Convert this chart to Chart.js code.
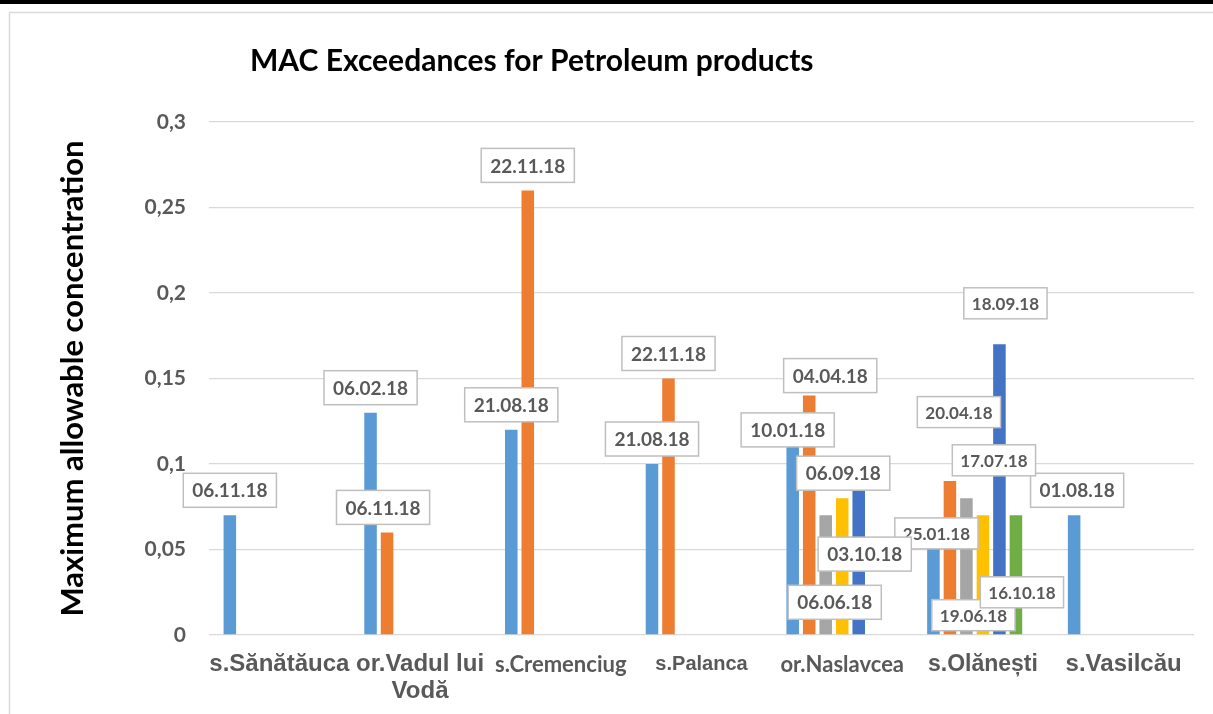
<!DOCTYPE html>
<html>
<head>
<meta charset="utf-8">
<script src="https://cdn.jsdelivr.net/npm/chart.js@4.4.0/dist/chart.umd.min.js"></script>
<style>
  html, body { margin: 0; padding: 0; background: #fff; }
</style>
</head>
<body>
<canvas id="macChart" width="1213" height="714"></canvas>
<script>
const sites = ["s.Sănătăuca", ["or.Vadul lui", "Vodă"], "s.Cremenciug", "s.Palanca", "or.Naslavcea", "s.Olănești", "s.Vasilcău"];

// one array per sampling (1st, 2nd, ... exceedance at the site)
const series1 = [0.07, 0.13, 0.12, 0.10, 0.11, 0.06, 0.07];
const series2 = [null, 0.06, 0.26, 0.15, 0.14, 0.09, null];
const series3 = [null, null, null, null, 0.07, 0.08, null];
const series4 = [null, null, null, null, 0.08, 0.07, null];
const series5 = [null, null, null, null, 0.09, 0.17, null];
const series6 = [null, null, null, null, null, 0.07, null];
const series7 = [null, null, null, null, null, null, null];

// sampling dates written in the label boxes
const dates1 = ["06.11.18", "06.02.18", "21.08.18", "21.08.18", "10.01.18", "25.01.18", "01.08.18"];
const dates2 = [null, "06.11.18", "22.11.18", "22.11.18", "04.04.18", "20.04.18", null];
const dates3 = [null, null, null, null, "06.06.18", "19.06.18", null];
const dates4 = [null, null, null, null, "06.09.18", "17.07.18", null];
const dates5 = [null, null, null, null, "03.10.18", "18.09.18", null];
const dates6 = [null, null, null, null, null, "16.10.18", null];

const yTicks = [0, 0.05, 0.1, 0.15, 0.2, 0.25, 0.3];

const colors = ["#5B9BD5", "#ED7D31", "#A5A5A5", "#FFC000", "#4472C4", "#70AD47", "#264478"];
// the site names were typed in two different fonts
const siteFonts = [
  ["Liberation Sans", 24], ["Liberation Sans", 24], ["Lato", 22], ["Liberation Sans", 20],
  ["Lato", 22], ["Liberation Sans", 23], ["Liberation Sans", 24]
];

// labels that were dragged away from the bar top (series-site : [dx, dy])
const labelMoves = {
  "0-4": [-5, -17], "0-5": [3, 1], "0-6": [3, -25],
  "1-1": [-4, -25], "1-4": [21, -20], "1-5": [9, -69],
  "2-4": [9, 87], "2-5": [7, 117],
  "3-4": [1, -25], "3-5": [11, -55],
  "4-4": [6, 73], "4-5": [6, -41],
  "5-5": [6, 77]
};

const allSeries = [series1, series2, series3, series4, series5, series6, series7];
const allDates = [dates1, dates2, dates3, dates4, dates5, dates6];

const framePlugin = {
  id: "frame",
  beforeDraw(chart) {
    const c = chart.ctx;
    c.save();
    c.fillStyle = "#fff";
    c.fillRect(0, 0, chart.width, chart.height);
    c.strokeStyle = "#d9d9d9";
    c.lineWidth = 1.5;
    c.strokeRect(9.5, 12.5, chart.width + 20, chart.height + 20);
    c.fillStyle = "#000";
    c.fillRect(0, 0, chart.width, 4);
    c.restore();
  },
  afterDraw(chart) {
    const c = chart.ctx;
    c.save();
    c.fillStyle = "#000";
    c.font = "bold 30px Lato";
    c.textBaseline = "middle";
    c.fillText("MAC Exceedances for Petroleum products", 250, 61);
    c.restore();
  }
};

const dateLabels = {
  id: "dateLabels",
  afterDatasetsDraw(chart) {
    const c = chart.ctx;
    c.save();
    c.textAlign = "center";
    c.textBaseline = "middle";
    allDates.forEach((dates, i) => {
      const meta = chart.getDatasetMeta(i);
      dates.forEach((txt, j) => {
        if (!txt) return;
        const bar = meta.data[j];
        const mv = labelMoves[i + "-" + j] || [0, -25];
        const small = j === 5;
        c.font = "bold " + (small ? 17 : 19) + "px Lato";
        const w = c.measureText(txt).width + (small ? 16 : 18);
        const h = small ? 31 : 34;
        const x = bar.x + mv[0];
        const y = bar.y + mv[1];
        c.fillStyle = "#fff";
        c.fillRect(x - w / 2, y - h / 2, w, h);
        c.strokeStyle = "#bfbfbf";
        c.lineWidth = 1.5;
        c.strokeRect(x - w / 2, y - h / 2, w, h);
        c.fillStyle = "#595959";
        c.fillText(txt, x, y + 1);
      });
    });
    c.restore();
  }
};

new Chart(document.getElementById("macChart"), {
  type: "bar",
  data: {
    labels: sites,
    datasets: allSeries.map((d, i) => ({
      label: "Series " + (i + 1),
      data: d,
      backgroundColor: colors[i],
      barPercentage: 0.76,
      categoryPercentage: 0.821
    }))
  },
  options: {
    responsive: false,
    animation: false,
    layout: { padding: { top: 122, right: 19, bottom: 0, left: 10 } },
    plugins: {
      legend: { display: false },
      tooltip: { enabled: false }
    },
    scales: {
      x: {
        grid: { display: false, drawTicks: false },
        border: { display: false },
        ticks: {
          padding: 16,
          color: "#595959",
          autoSkip: false,
          maxRotation: 0,
          font: ctx => {
            const f = siteFonts[ctx.index] || ["Liberation Sans", 21];
            return { family: f[0], weight: "bold", size: f[1], lineHeight: "27px" };
          }
        },
        afterFit(s) { s.height = 79; s.paddingLeft = 0; s.paddingRight = 0; }
      },
      y: {
        min: 0,
        max: 0.3,
        afterBuildTicks(s) { s.ticks = yTicks.map(v => ({ value: v })); },
        border: { display: false },
        grid: { color: "#d9d9d9", lineWidth: 1.3, drawTicks: false },
        ticks: {
          padding: 23,
          color: "#595959",
          font: { family: "Lato", weight: "bold", size: 21 },
          callback: v => String(+v.toFixed(2)).replace(".", ",")
        },
        title: {
          display: true,
          text: "Maximum allowable concentration",
          color: "#000",
          font: { family: "Lato", weight: "bold", size: 31 },
          padding: { top: 44, bottom: 0 }
        },
        afterFit(s) { s.width = 199; s.paddingTop = 0; s.paddingBottom = 0; }
      }
    }
  },
  plugins: [framePlugin, dateLabels]
});
</script>
</body>
</html>
